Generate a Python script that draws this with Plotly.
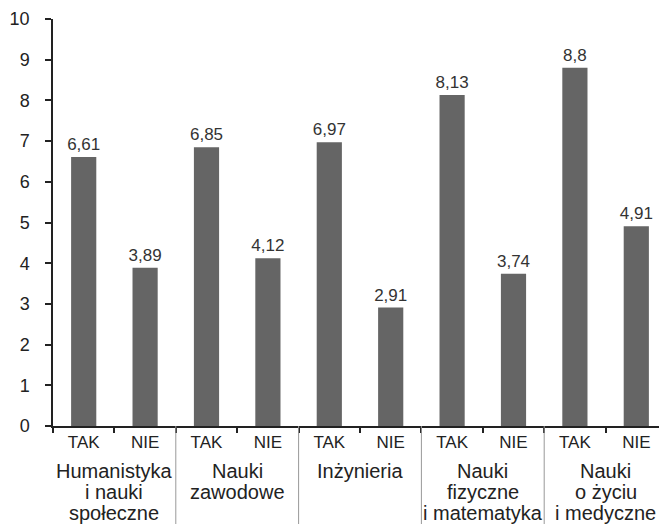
import plotly.graph_objects as go

groups = [["Humanistyka", "i nauki", "społeczne"],
          ["Nauki", "zawodowe"],
          ["Inżynieria"],
          ["Nauki", "fizyczne", "i matematyka"],
          ["Nauki", "o życiu", "i medyczne"]]
answers = ["TAK", "NIE"]
values = [6.61, 3.89, 6.85, 4.12, 6.97, 2.91, 8.13, 3.74, 8.8, 4.91]
value_labels = ["6,61", "3,89", "6,85", "4,12", "6,97", "2,91", "8,13", "3,74", "8,8", "4,91"]
y_ticks = [0, 1, 2, 3, 4, 5, 6, 7, 8, 9, 10]

keys = [f"{' '.join(g)} – {a}" for g in groups for a in answers]
tick_text = [a for _ in groups for a in answers]

fig = go.Figure(go.Bar(
    x=keys, y=values, text=value_labels,
    textposition="outside", cliponaxis=False, constraintext="none",
    textfont=dict(size=17, color="#333333"),
    marker=dict(color="#656565", line=dict(width=0)),
))

# Page body has an 8px margin; compensate so the plot sits like the reference
W, H = 659, 516
ml, mt, mb = 45, 11, 98
fig.update_layout(
    width=W, height=H,
    margin=dict(l=ml, r=0, t=mt, b=mb),
    paper_bgcolor="white", plot_bgcolor="white",
    font=dict(family="Liberation Sans, Arial", size=17, color="#222222"),
    bargap=0.59, showlegend=False,
)
fig.update_yaxes(range=[0, 10], tickvals=y_ticks, showgrid=False, zeroline=False,
                 showline=True, linecolor="#222222", linewidth=1.5,
                 ticks="outside", ticklen=6, tickcolor="#222222", tickwidth=1.5,
                 ticklabelstandoff=12,
                 tickfont=dict(size=18))
fig.update_xaxes(type="category", tickmode="array", tickvals=keys, ticktext=tick_text,
                 tickson="boundaries",
                 showline=True, linecolor="#222222", linewidth=1.5,
                 ticks="outside", ticklen=5, tickcolor="#222222", tickwidth=1.5,
                 tickfont=dict(size=17), showgrid=False)

plot_h = H - mt - mb
for gi, lines in enumerate(groups):
    center = 2 * gi + 0.5
    for li, line in enumerate(lines):
        fig.add_annotation(x=center, xref="x", y=0, yref="paper",
                           yshift=-(45 + 21 * li), yanchor="middle",
                           text=line, showarrow=False,
                           font=dict(size=20, color="#222222"))
    if gi > 0:
        fig.add_shape(type="line", xref="x", yref="paper",
                      x0=2 * gi - 0.5, x1=2 * gi - 0.5, y0=0, y1=-mb / plot_h,
                      line=dict(color="#999999", width=1))

fig.write_html("out.html")
